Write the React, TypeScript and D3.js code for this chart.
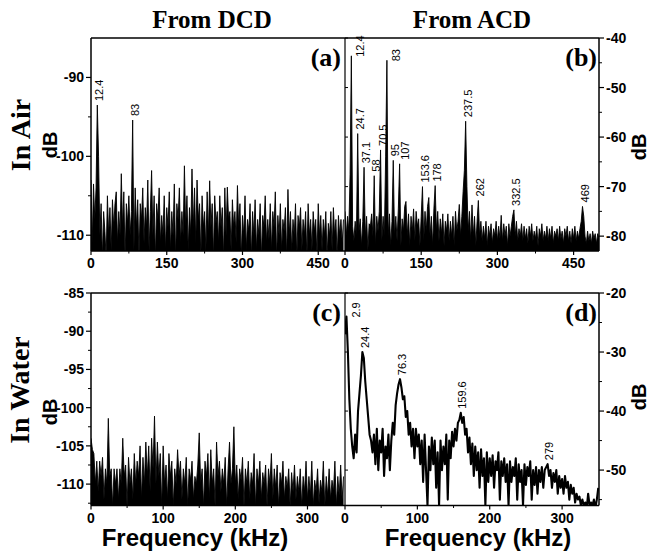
import React from 'react';
import * as d3 from 'd3';

// ---------- DATA ----------
const airStep = 2.5; // kHz between spectrum bins (top panels)
const waterStep = 2; // kHz between spectrum bins (bottom panels)

// (a) In Air, from DCD (dB), bins 0..500 kHz
const dcdAirDb = [
  -103, -111, -103.5, -108, -104, -93.5, -100, -110, -106, -113, -107, -109.5, -113, -105, -110, -106.5, -112, -105.5, -109, -106,
  -104.5, -111, -107, -110, -102.2, -109, -104.5, -113, -106, -108.5, -105, -110, -107, -95.4, -112, -104, -109, -105.5, -113, -106,
  -108, -104, -111, -106.5, -109, -103, -112, -107, -101.8, -110, -105, -113, -106, -108, -104, -111, -107.5, -110, -105, -112,
  -106.5, -109, -104.5, -112, -107, -110, -103.5, -113, -106, -108, -104, -111, -107, -110, -101.2, -109, -105, -112, -106.5, -110,
  -101.6, -109, -104, -111, -103, -108, -106, -113, -105, -109, -107, -112, -104.5, -110, -103.1, -109, -106, -113, -105, -108.5,
  -107, -111, -105, -109, -106.5, -113, -104, -110, -103.9, -108, -107, -112, -105.5, -109, -107, -111, -103.7, -109, -106, -113,
  -107.5, -110, -105, -112, -108, -109.5, -106, -113, -107, -110, -105.5, -112, -108, -110, -106, -113, -107.5, -109, -105, -111,
  -108, -110.5, -106, -112, -107, -109, -104.5, -113, -107.5, -110, -106, -112, -108, -109.5, -106.5, -113, -104.2, -110, -107, -112,
  -108, -110, -106, -113, -107.5, -109, -106.5, -112, -108, -110, -107, -113, -106, -110, -108, -112, -107, -109.5, -108, -113,
  -106, -110, -107.5, -112, -108, -110, -107, -113, -108.5, -110, -107, -112, -106.5, -110, -108, -113, -107.5, -110, -108, -111, -108
];

// (b) In Air, from ACD (dB), bins 0..500 kHz
const acdAirDb = [
  -75, -80, -76, -79, -67.5, -43.6, -78, -81, -77, -80, -59.3, -79, -76.5, -82, -77, -66.1, -80, -76, -83, -77.5,
  -78, -75.5, -80, -67.8, -82, -76, -79, -75, -62.6, -81, -76, -80, -64, -44.5, -80, -75.5, -82, -77, -64.7, -80,
  -76, -81, -74.5, -65.4, -82, -76.5, -79, -74, -73, -80, -75.5, -82, -76, -79, -74.5, -81, -75, -78, -76.5, -82,
  -76, -70, -81, -75, -79, -74, -72.2, -80, -76, -82, -74.5, -69.8, -79, -75, -81, -76.5, -79.5, -75.5, -82, -77,
  -79, -75.5, -81, -77, -80, -76, -82, -75, -79, -77, -73.6, -80, -76, -71, -66.7, -56.8, -70, -79, -75, -81,
  -73.7, -80, -76, -82, -77, -72.8, -80, -77, -81, -78, -80.5, -77, -82, -78, -80, -77.5, -81.5, -78.5, -80, -77,
  -81, -78, -80.5, -75.8, -81, -77.5, -80, -78, -82, -77.5, -80, -78, -76, -74.7, -80, -77, -81, -78.5, -80, -77.5,
  -81, -78, -80.5, -78.5, -81.5, -78, -80, -77.5, -81, -79, -80.5, -78, -82, -78.5, -80, -77.5, -81, -79, -80.5, -78,
  -81, -78.5, -80.5, -78, -81.5, -79, -80, -78.5, -81, -78, -80.5, -79, -81.5, -78.5, -80, -78, -81, -79, -81.5, -78.5,
  -80.5, -78, -81, -79, -80.5, -78.5, -77, -74, -76, -80, -81.5, -79, -81, -79.5, -81.5, -79, -80.5, -79.5, -81.5, -79.5, -80.5
];

// (c) In Water, from DCD (dB), bins 0..350 kHz
const dcdWaterDb = [
  -104, -105.5, -106, -110, -107, -111, -107, -109, -106.5, -112, -108, -110, -101.4, -109, -108, -113, -108, -110, -108, -112,
  -108, -110, -104, -109, -107.5, -113, -106.5, -110, -108, -112, -106, -110, -107, -109, -105, -112, -106.5, -110, -104.5, -109,
  -105, -111, -104, -108, -101.1, -110, -104.5, -109, -106, -113, -105, -110, -107.5, -112, -106, -109, -107, -113, -108, -110,
  -105.5, -109, -107, -112, -108, -110, -106.5, -113, -108, -109.5, -107, -112, -109, -110, -107.5, -103.3, -110, -108, -113, -107,
  -109, -106, -112, -105.5, -110, -108, -113, -104.5, -109, -107, -111, -108, -110, -106.5, -113, -108, -104.5, -110, -108, -102.5,
  -110, -107.5, -112, -108, -109.5, -106.5, -113, -108, -110, -107, -112, -108.5, -110, -106, -113, -108, -110, -107, -112, -108.5,
  -110, -107.5, -113, -108, -110, -106, -112, -108, -110.5, -107.5, -113, -108.5, -110, -107, -112, -109, -110.5, -108, -113, -108.5,
  -111, -107.5, -112, -109, -111, -108, -113, -109, -111, -107, -112, -109, -111.5, -107, -113, -109.5, -111, -108, -112.5, -109.5,
  -111, -107, -113, -109, -111.5, -108, -112, -109.5, -111, -107, -113, -109, -111.5, -107.5, -112, -109
];

// (d) In Water, from ACD (dB), bins 0..350 kHz
const acdWaterDb = [
  -27, -24, -30, -38, -43, -46, -48, -44, -47, -40, -37, -34, -30, -31, -35, -38, -41, -44, -45, -47,
  -44, -49, -43, -50, -45, -47, -43, -51, -46, -48, -44, -50, -45, -42, -44, -39, -37, -35.5, -34.6, -36,
  -38, -37.5, -41, -40, -44, -42, -46, -43, -48, -43, -46, -44, -49, -45, -52, -44, -50, -56, -46, -50,
  -44.5, -49, -45, -53, -47, -56, -45, -50, -46, -49, -44, -55, -45, -48, -43.5, -46, -43, -45, -42, -41.5,
  -40.3, -42, -41, -44, -43, -47, -44.5, -49, -45.5, -51, -46, -50, -47, -53, -46.5, -51, -48, -56, -47, -52,
  -48, -51, -47.5, -53, -48.5, -50, -47, -55, -48.5, -51, -48, -52, -49, -56, -48.5, -52, -49.5, -51, -48, -55,
  -49, -52, -50, -56, -49, -52.5, -49.5, -51, -48.5, -55, -50, -52.5, -49.5, -54, -50, -52, -49.5, -53, -50, -49.5,
  -49, -51, -50, -53, -50.5, -52, -50, -54, -51, -53, -51.5, -54, -51, -53, -52, -55, -52.5, -54, -53, -55.5,
  -54, -55, -54.5, -56, -55, -56, -55.5, -56.5, -54, -56, -55.5, -56, -55, -56.5, -55, -53
];

// labelled peaks (kHz, dB)
const dcdAirPeakKHz = [12.4, 83];
const dcdAirPeakDb = [-93.5, -95.4];
const dcdAirPeakText = ['12.4', '83'];

const acdAirPeakKHz = [12.4, 24.7, 37.1, 58, 70.5, 83, 95, 107, 153.6, 178, 237.5, 262, 332.5, 469];
const acdAirPeakDb = [-43.6, -59.3, -66.1, -67.8, -62.6, -44.5, -64.7, -65.4, -70, -69.8, -56.8, -72.8, -74.7, -74];
const acdAirPeakText = ['12.4', '24.7', '37.1', '58', '70.5', '83', '95', '107', '153.6', '178', '237.5', '262', '332.5', '469'];

const acdWaterPeakKHz = [2.9, 24.4, 76.3, 159.6, 279];
const acdWaterPeakDb = [-24, -30, -34.6, -40.3, -49];
const acdWaterPeakText = ['2.9', '24.4', '76.3', '159.6', '279'];

// axis ticks
const airFreqTicks = [0, 150, 300, 450];
const airFreqMinor = [75, 225, 375];
const waterFreqTicks = [0, 100, 200, 300];
const waterFreqMinor = [50, 150, 250];
const aTicks = [-90, -100, -110];
const aMinor = [-95, -105];
const bTicks = [-40, -50, -60, -70, -80];
const bMinor = [-45, -55, -65, -75];
const cTicks = [-85, -90, -95, -100, -105, -110];
const cMinor = [-87.5, -92.5, -97.5, -102.5, -107.5, -112.5];
const dTicks = [-20, -30, -40, -50];
const dMinor = [-25, -35, -45, -55];

// ---------- LAYOUT ----------
const W = 652, H = 552;
const LEFT = 91, MID = 345, RIGHT = 599;
const TOP1 = 38, BOT1 = 251, TOP2 = 293, BOT2 = 505.5;
const sans = 'Arial, "Liberation Sans", Helvetica, sans-serif';
const serif = '"Times New Roman", "Liberation Serif", Times, serif';

type PanelProps = {
  id: string;
  x0: number; x1: number; y0: number; y1: number;
  xMax: number; yMin: number; yMax: number;
  values: number[]; step: number; filled: boolean;
  xTicks: number[]; xMinor: number[];
  yTicks: number[]; yMinor: number[];
  side: 'left' | 'right';
  peaksK?: number[]; peaksDb?: number[]; peaksText?: string[];
  letter: string;
};

function Panel(p: PanelProps) {
  const xs = d3.scaleLinear().domain([0, p.xMax]).range([p.x0, p.x1]);
  const ys = d3.scaleLinear().domain([p.yMin, p.yMax]).range([p.y1, p.y0]);
  const line = d3.line<number>().x((_, i) => xs(i * p.step)).y((d) => ys(d));
  const area = d3.area<number>().x((_, i) => xs(i * p.step)).y0(p.y1 + 2).y1((d) => ys(d));
  const axisX = p.side === 'left' ? p.x0 : p.x1;
  const dir = p.side === 'left' ? -1 : 1;

  // peak label placement (rotated text above each peak; nudged when crowded)
  const placed: { cx: number; top: number; bottom: number }[] = [];
  const labels = (p.peaksK || []).map((k, i) => {
    const px = xs(k);
    const py = ys(p.peaksDb![i]);
    const txt = p.peaksText![i];
    const len = txt.length * 5.8;
    const right = py - 4 - len < p.y0 + 8;
    let cx = right ? px + 9 : px + 2;
    const bottom = right ? py + 1 : py - 4;
    const top = bottom - len;
    for (const q of placed) {
      if (Math.abs(q.cx - cx) < 9 && !(top > q.bottom || bottom < q.top)) cx = q.cx + 9.5;
    }
    placed.push({ cx, top, bottom });
    return { cx, bottom, txt };
  });

  return (
    <g>
      <defs>
        <clipPath id={p.id}>
          <rect x={p.x0} y={p.y0} width={p.x1 - p.x0} height={p.y1 - p.y0} />
        </clipPath>
      </defs>
      {p.filled && <path d={area(p.values) || ''} fill="#000" clipPath={`url(#${p.id})`} />}
      <path d={line(p.values) || ''} fill="none" stroke="#000" strokeWidth={p.filled ? 0.9 : 2.1}
        strokeLinejoin="round" clipPath={`url(#${p.id})`} />
      {/* frame */}
      <line x1={p.x0} x2={p.x1} y1={p.y0} y2={p.y0} stroke="#000" strokeWidth={1.5} />
      <line x1={p.x0} x2={p.x1} y1={p.y1} y2={p.y1} stroke="#000" strokeWidth={1.5} />
      <line x1={axisX} x2={axisX} y1={p.y0} y2={p.y1} stroke="#000" strokeWidth={1.5} />
      {p.side === 'right' && (
        <g>
          <line x1={p.x0} x2={p.x0} y1={p.y0} y2={p.y1} stroke="#000" strokeWidth={1.2} />
          {p.yTicks.map((t) => (
            <line key={'m' + t} x1={p.x0} x2={p.x0 + 3} y1={ys(t)} y2={ys(t)} stroke="#000" />
          ))}
        </g>
      )}
      {/* x ticks */}
      {p.xTicks.map((t) => (
        <g key={'x' + t}>
          <line x1={xs(t)} x2={xs(t)} y1={p.y1} y2={p.y1 + 4} stroke="#000" strokeWidth={1.2} />
          <text x={xs(t)} y={p.y1 + 17} textAnchor="middle" fontFamily={sans} fontWeight="bold" fontSize={14}>{t}</text>
        </g>
      ))}
      {p.xMinor.map((t) => (
        <line key={'xm' + t} x1={xs(t)} x2={xs(t)} y1={p.y1} y2={p.y1 + 2.5} stroke="#000" />
      ))}
      {/* y ticks */}
      {p.yTicks.map((t) => (
        <g key={'y' + t}>
          <line x1={axisX} x2={axisX + dir * 5} y1={ys(t)} y2={ys(t)} stroke="#000" strokeWidth={1.2} />
          <text x={axisX + dir * 7} y={ys(t)} dy="0.36em" textAnchor={p.side === 'left' ? 'end' : 'start'}
            fontFamily={sans} fontWeight="bold" fontSize={14}>{t}</text>
        </g>
      ))}
      {p.yMinor.filter((t) => t >= p.yMin && t <= p.yMax).map((t) => (
        <line key={'ym' + t} x1={axisX} x2={axisX + dir * 3} y1={ys(t)} y2={ys(t)} stroke="#000" />
      ))}
      {labels.map((l, i) => (
        <text key={'p' + i} transform={`translate(${l.cx},${l.bottom}) rotate(-90)`} dy="0.36em"
          fontFamily={sans} fontSize={11}>{l.txt}</text>
      ))}
      <text x={p.side === 'left' ? p.x1 - 4 : p.x1 - 2} y={p.y0 + 28} textAnchor="end" fontFamily={serif}
        fontWeight="bold" fontSize={26}>{p.letter}</text>
    </g>
  );
}

export default function App() {
  return (
    <svg width={W} height={H} viewBox={`0 0 ${W} ${H}`} style={{ position: 'absolute', left: 0, top: 0, background: '#fff' }}>
      <rect x={0} y={0} width={W} height={H} fill="#fff" />
      <text x={212} y={28} textAnchor="middle" fontFamily={serif} fontWeight="bold" fontSize={25}>From DCD</text>
      <text x={472} y={28} textAnchor="middle" fontFamily={serif} fontWeight="bold" fontSize={25}>From ACD</text>

      <text transform="translate(30,135) rotate(-90)" textAnchor="middle" fontFamily={serif} fontWeight="bold" fontSize={28}>In Air</text>
      <text transform="translate(57,145) rotate(-90)" textAnchor="middle" fontFamily={sans} fontWeight="bold" fontSize={20}>dB</text>
      <text transform="translate(29,390) rotate(-90)" textAnchor="middle" fontFamily={serif} fontWeight="bold" fontSize={28}>In Water</text>
      <text transform="translate(57,412) rotate(-90)" textAnchor="middle" fontFamily={sans} fontWeight="bold" fontSize={20}>dB</text>
      <text transform="translate(646,147) rotate(-90)" textAnchor="middle" fontFamily={sans} fontWeight="bold" fontSize={20}>dB</text>
      <text transform="translate(646,397) rotate(-90)" textAnchor="middle" fontFamily={sans} fontWeight="bold" fontSize={20}>dB</text>

      <Panel id="ca" x0={LEFT} x1={MID} y0={TOP1} y1={BOT1} xMax={503} yMin={-112} yMax={-85}
        values={dcdAirDb} step={airStep} filled={true} xTicks={airFreqTicks} xMinor={airFreqMinor}
        yTicks={aTicks} yMinor={aMinor} side="left"
        peaksK={dcdAirPeakKHz} peaksDb={dcdAirPeakDb} peaksText={dcdAirPeakText} letter="(a)" />
      <Panel id="cb" x0={MID} x1={RIGHT} y0={TOP1} y1={BOT1} xMax={500} yMin={-83} yMax={-40}
        values={acdAirDb} step={airStep} filled={true} xTicks={airFreqTicks} xMinor={airFreqMinor}
        yTicks={bTicks} yMinor={bMinor} side="right"
        peaksK={acdAirPeakKHz} peaksDb={acdAirPeakDb} peaksText={acdAirPeakText} letter="(b)" />
      <Panel id="cc" x0={LEFT} x1={MID} y0={TOP2} y1={BOT2} xMax={352} yMin={-112.8} yMax={-85}
        values={dcdWaterDb} step={waterStep} filled={true} xTicks={waterFreqTicks} xMinor={waterFreqMinor}
        yTicks={cTicks} yMinor={cMinor} side="left" letter="(c)" />
      <Panel id="cd" x0={MID} x1={RIGHT} y0={TOP2} y1={BOT2} xMax={351} yMin={-56} yMax={-20}
        values={acdWaterDb} step={waterStep} filled={false} xTicks={waterFreqTicks} xMinor={waterFreqMinor}
        yTicks={dTicks} yMinor={dMinor} side="right"
        peaksK={acdWaterPeakKHz} peaksDb={acdWaterPeakDb} peaksText={acdWaterPeakText} letter="(d)" />

      <text x={195} y={546} textAnchor="middle" fontFamily={sans} fontWeight="bold" fontSize={24}>Frequency (kHz)</text>
      <text x={478} y={546} textAnchor="middle" fontFamily={sans} fontWeight="bold" fontSize={24}>Frequency (kHz)</text>
    </svg>
  );
}
